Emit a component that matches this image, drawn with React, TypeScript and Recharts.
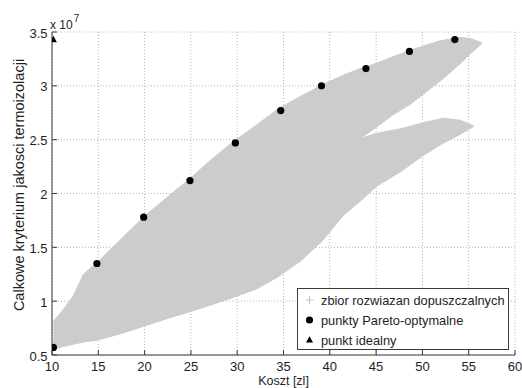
import React from "react";
import { ComposedChart, Area, Scatter, XAxis, YAxis, CartesianGrid } from "recharts";

const FONT = '"Liberation Sans", Arial, Helvetica, sans-serif';
const CLOUD = "#cccccc";
const INK = "#1e1e1e";
const FRAME = "#3a3a3a";

// axes: koszt [zl] and kryterium [x 10^7]
const xTicks = [10, 15, 20, 25, 30, 35, 40, 45, 50, 55, 60];
const yTicks = [0.5, 1, 1.5, 2, 2.5, 3, 3.5];

// feasible set, main body + upper branch (outline)
const cloudX = [10.15, 11.2, 12.3, 13.4, 15, 17.5, 20, 22.5, 24.8, 27, 29.4, 32, 34.3, 36.8, 39.2, 41.5, 43.3, 43.3, 45.1, 46.8, 48.7, 50.5, 52, 54, 55.2, 56.4];
const cloudLow = [0.55, 0.58, 0.6, 0.62, 0.64, 0.7, 0.77, 0.84, 0.9, 0.96, 1.03, 1.11, 1.22, 1.37, 1.56, 1.8, 1.93, 2.51, 2.62, 2.73, 2.83, 2.95, 3.05, 3.2, 3.3, 3.39];
const cloudHigh = [0.81, 0.92, 1.05, 1.25, 1.37, 1.58, 1.79, 1.97, 2.13, 2.3, 2.47, 2.63, 2.78, 2.9, 3.01, 3.1, 3.16, 3.16, 3.21, 3.27, 3.33, 3.38, 3.42, 3.45, 3.44, 3.4];

// feasible set, lower branch
const branchX = [43.3, 45.1, 47.6, 50.2, 52.3, 54.1, 55.5];
const branchLow = [1.93, 2.07, 2.2, 2.36, 2.47, 2.55, 2.62];
const branchHigh = [2.51, 2.56, 2.6, 2.66, 2.7, 2.68, 2.63];

const paretoX = [10.15, 14.85, 19.9, 24.9, 29.8, 34.7, 39.1, 43.9, 48.6, 53.5];
const paretoY = [0.57, 1.35, 1.78, 2.12, 2.47, 2.77, 3.0, 3.16, 3.32, 3.43];

const idealX = [10.15];
const idealY = [3.43];

const legendLabels = [
  "zbior rozwiazan dopuszczalnych",
  "punkty Pareto-optymalne",
  "punkt idealny",
];

const cloudData = cloudX.map((x, i) => ({ x, range: [cloudLow[i], cloudHigh[i]] }));
const branchData = branchX.map((x, i) => ({ x, range: [branchLow[i], branchHigh[i]] }));
const paretoData = paretoX.map((x, i) => ({ x, y: paretoY[i] }));
const idealData = idealX.map((x, i) => ({ x, y: idealY[i] }));

const Plus = ({ cx, cy }: any) => (
  <g stroke="#c4c4c4" strokeWidth={1}>
    <line x1={cx - 4} y1={cy} x2={cx + 4} y2={cy} />
    <line x1={cx} y1={cy - 4} x2={cx} y2={cy + 4} />
  </g>
);
const Dot = ({ cx, cy }: any) => <circle cx={cx} cy={cy} r={3.6} fill="#000" />;
const Tri = ({ cx, cy }: any) => (
  <polygon points={`${cx},${cy - 3.8} ${cx - 3.5},${cy + 2.6} ${cx + 3.5},${cy + 2.6}`} fill="#000" />
);

const tickText = { fontSize: 13, fill: INK, fontFamily: FONT };

const BottomTick = ({ x, y, payload }: any) => (
  <g>
    <line x1={x} y1={y} x2={x} y2={y - 5} stroke={FRAME} />
    <text x={x} y={y + 15.5} textAnchor="middle" {...tickText}>{payload.value}</text>
  </g>
);
const TopTick = ({ x, y }: any) => <line x1={x} y1={y} x2={x} y2={y + 5} stroke={FRAME} />;
const LeftTick = ({ x, y, payload }: any) => (
  <g>
    <line x1={x} y1={y} x2={x + 5} y2={y} stroke={FRAME} />
    <text x={x - 4.5} y={y + 5.5} textAnchor="end" {...tickText}>{payload.value}</text>
  </g>
);
const RightTick = ({ x, y }: any) => <line x1={x} y1={y} x2={x - 5} y2={y} stroke={FRAME} />;

export default function App() {
  return (
    <div style={{ position: "absolute", left: 0, top: 0, width: 522, height: 388, background: "#fff" }}>
      <ComposedChart width={522} height={388} margin={{ top: 32, right: 7, bottom: 0, left: 0 }}>
        <CartesianGrid stroke="#b4b4b4" strokeDasharray="1 2" />
        <XAxis
          dataKey="x"
          type="number"
          domain={[10, 60]}
          ticks={xTicks}
          interval={0}
          allowDataOverflow
          height={33}
          tickSize={0}
          tickMargin={0}
          tickLine={false}
          axisLine={{ stroke: FRAME }}
          tick={<BottomTick />}
          label={{ value: "Koszt [zl]", position: "insideBottom", offset: 2.8, fontSize: 12.5, fill: INK, fontFamily: FONT }}
        />
        <XAxis
          xAxisId="top"
          orientation="top"
          type="number"
          domain={[10, 60]}
          ticks={xTicks}
          interval={0}
          allowDataOverflow
          height={0}
          tickSize={0}
          tickMargin={0}
          tickLine={false}
          axisLine={{ stroke: FRAME }}
          tick={<TopTick />}
        />
        <YAxis
          type="number"
          domain={[0.5, 3.5]}
          ticks={yTicks}
          interval={0}
          allowDataOverflow
          width={52}
          tickSize={0}
          tickMargin={0}
          tickLine={false}
          axisLine={{ stroke: FRAME }}
          tick={<LeftTick />}
        />
        <YAxis
          yAxisId="right"
          orientation="right"
          type="number"
          domain={[0.5, 3.5]}
          ticks={yTicks}
          interval={0}
          allowDataOverflow
          width={0}
          tickSize={0}
          tickMargin={0}
          tickLine={false}
          axisLine={{ stroke: FRAME }}
          tick={<RightTick />}
        />
        <Area data={cloudData} dataKey="range" type="linear" stroke={CLOUD} fill={CLOUD} fillOpacity={1} dot={false} activeDot={false} isAnimationActive={false} />
        <Area data={branchData} dataKey="range" type="linear" stroke={CLOUD} fill={CLOUD} fillOpacity={1} dot={false} activeDot={false} isAnimationActive={false} />
        <Scatter data={paretoData} dataKey="y" shape={<Dot />} isAnimationActive={false} />
        <Scatter data={idealData} dataKey="y" shape={<Tri />} isAnimationActive={false} />
      </ComposedChart>
      <svg
        width={522}
        height={388}
        style={{ position: "absolute", left: 0, top: 0, pointerEvents: "none" }}
        fontFamily={FONT}
      >
        <text transform="translate(24,185) rotate(-90)" textAnchor="middle" fontSize={14.5} fill={INK}>
          Calkowe kryterium jakosci termoizolacji
        </text>
        <text x={50} y={28.5} fontSize={12} fill={INK}>
          x 10
          <tspan dx={1} dy={-7} fontSize={10}>7</tspan>
        </text>
        <rect x={297.5} y={288.5} width={211} height={61} fill="#fff" stroke={FRAME} />
        <Plus cx={309.5} cy={300} />
        <Dot cx={309.5} cy={320} />
        <Tri cx={309.5} cy={340} />
        {legendLabels.map((t, i) => (
          <text key={t} x={321} y={304.5 + i * 20} fontSize={12.8} fill={INK}>
            {t}
          </text>
        ))}
      </svg>
    </div>
  );
}
